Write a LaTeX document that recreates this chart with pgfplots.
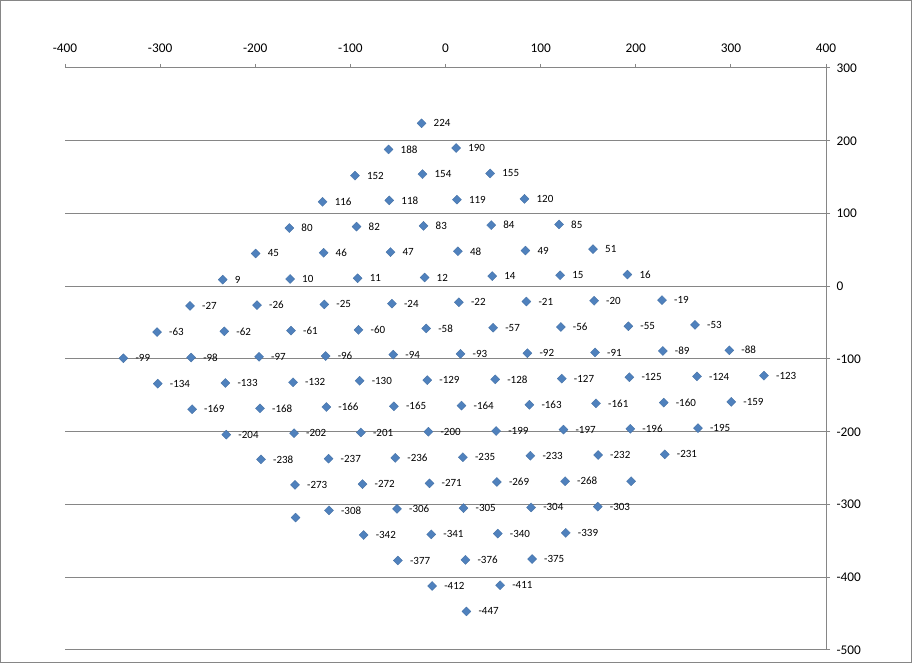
\documentclass[border=0pt]{standalone}
\usepackage{pgfplots}
\pgfplotsset{compat=1.18}
\usepackage{pgfplotstable}
\usepackage{fontspec}
\setmainfont{Carlito}
\definecolor{exblue}{HTML}{4F81BD}
\definecolor{exgray}{HTML}{868686}
\pgfplotstableread{
x y lbl
-25.2 224 224
-59.9 188 188
11.2 190 190
-95.2 152 152
-24.2 154 154
47 155 155
-129.2 116 116
-59.1 118 118
12 119 119
83 120 120
-164.2 80 80
-93.5 82 82
-23.1 83 83
48 84 84
119.4 85 85
-199.6 45 45
-128.2 46 46
-57.8 47 47
13 48 48
84 49 49
155.1 51 51
-234.2 9 9
-163.4 10 10
-92.4 11 11
-22 12 12
49.1 14 14
120.5 15 15
191.2 16 16
-268.5 -27 -27
-198.1 -26 -26
-127.4 -25 -25
-56.3 -24 -24
14.1 -22 -22
85.1 -21 -21
156.2 -20 -20
227.6 -19 -19
-303.2 -63 -63
-232.5 -62 -62
-162.4 -61 -61
-91.4 -60 -60
-20.3 -58 -58
50.1 -57 -57
121.2 -56 -56
192.2 -55 -55
262.3 -53 -53
-338.6 -99 -99
-267.4 -98 -98
-196 -97 -97
-126 -96 -96
-54.9 -94 -94
15.8 -93 -93
86.1 -92 -92
157.2 -91 -91
228.4 -89 -89
298.3 -88 -88
-302.5 -134 -134
-231.4 -133 -133
-160.3 -132 -132
-90.3 -130 -130
-19.2 -129 -129
52.2 -128 -128
122.3 -127 -127
193.3 -125 -125
264.4 -124 -124
334.8 -123 -123
-266.4 -169 -169
-195 -168 -168
-125.3 -166 -166
-54.2 -165 -165
16.8 -164 -164
88.2 -163 -163
158.3 -161 -161
229.4 -160 -160
300.4 -159 -159
-230.4 -204 -204
-159.2 -202 -202
-88.9 -201 -201
-17.9 -200 -200
53.3 -199 -199
124 -197 -197
194.3 -196 -196
265.4 -195 -195
-193.9 -238 -238
-122.9 -237 -237
-52.8 -236 -236
18.3 -235 -235
89.3 -233 -233
160.4 -232 -232
230.5 -231 -231
-158.2 -273 -273
-87.2 -272 -272
-16.8 -271 -271
54 -269 -269
125.7 -268 -268
-122.5 -308 -308
-51 -306 -306
18.9 -305 -305
90 -304 -304
160.1 -303 -303
-86.1 -342 -342
-15 -341 -341
55 -340 -340
126.5 -339 -339
-50 -377 -377
21 -376 -376
91 -375 -375
-14 -412 -412
57.5 -411 -411
22 -447 -447
}\datatab
\pgfplotstableread{
x y
195.1 -268
-157.6 -318
}\unlabeled
\begin{document}
\begin{tikzpicture}
\begin{axis}[
  scale only axis, width=761pt, height=582pt,
  xmin=-400, xmax=400, ymin=-500, ymax=300,
  axis x line*=top, axis y line*=right,
  axis line style={exgray, line width=1pt},
  xtick={-400,-300,...,400}, ytick={-500,-400,...,300},
  tick align=outside, major tick length=4pt,
  tick style={exgray, line width=1pt},
  ymajorgrids, grid style={exgray, line width=1pt},
  ticklabel style={font=\fontsize{13.3}{15}\selectfont, text=black, /pgf/number format/assume math mode=true},
  xticklabel style={yshift=8pt},
  yticklabel style={xshift=3pt},
  clip=false,
]
\addplot[only marks, mark=square*, mark size=3.2pt,
  mark options={rotate=45, fill=exblue, draw=exblue!85!black, line width=0.3pt},
  nodes near coords, point meta=explicit symbolic,
  every node near coord/.append style={anchor=west, inner sep=0pt, xshift=12pt, font=\fontsize{11}{13}\selectfont, text=black}]
  table[x=x, y=y, meta=lbl] {\datatab};
\addplot[only marks, mark=square*, mark size=3.2pt,
  mark options={rotate=45, fill=exblue, draw=exblue!85!black, line width=0.3pt}]
  table[x=x, y=y] {\unlabeled};
\end{axis}
\draw[exgray, line width=1pt] ([xshift=-64pt,yshift=-13pt]current axis.south west) rectangle ([xshift=85pt,yshift=67pt]current axis.north east);
\path ([xshift=-65pt,yshift=-20pt]current axis.south west) rectangle ([xshift=94pt,yshift=68pt]current axis.north east);
\end{tikzpicture}
\end{document}
